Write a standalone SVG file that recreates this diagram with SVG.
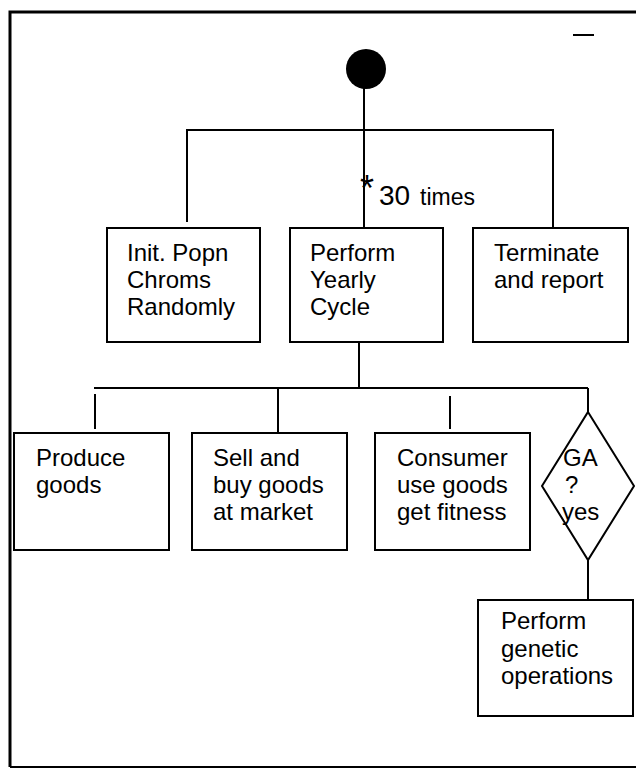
<svg xmlns="http://www.w3.org/2000/svg" width="636" height="771" viewBox="0 0 636 771">
<style>
.box{fill:#fff;stroke:#000;stroke-width:2}
.ln{fill:none;stroke:#000;stroke-width:2}
text{font-family:"Liberation Sans",Arial,sans-serif;font-size:24px;fill:#000}
</style>
<rect width="636" height="771" fill="#fff"/>
<g id="frame">
<path d="M10,767 V12 H636" fill="none" stroke="#000" stroke-width="3"/>
<path d="M10,767 H636" fill="none" stroke="#000" stroke-width="2"/>
<line x1="573" y1="35" x2="594" y2="35" stroke="#000" stroke-width="2"/>
</g>
<g id="connectors" class="ln">
<line x1="364" y1="88" x2="364" y2="228"/>
<polyline points="187,222 187,130 553,130 553,228"/>
<line x1="359" y1="343" x2="359" y2="388"/>
<line x1="94" y1="388" x2="588" y2="388"/>
<line x1="95" y1="394" x2="95" y2="429"/>
<line x1="278" y1="388" x2="278" y2="433"/>
<line x1="450" y1="396" x2="450" y2="429"/>
<line x1="588" y1="388" x2="588" y2="412"/>
<line x1="588" y1="560" x2="588" y2="600"/>
</g>
<g id="start"><ellipse cx="366" cy="69" rx="20" ry="20" fill="#000"/></g>
<g id="label-times">
<text x="360" y="201" style="font-size:36px">*</text>
<text x="379" y="205" style="font-size:28px">30</text>
<text x="420" y="205" style="font-size:23px">times</text>
</g>
<g id="init">
<rect class="box" x="107" y="228" width="153" height="114"/>
<text x="127" y="261">Init. Popn</text>
<text x="127" y="288">Chroms</text>
<text x="127" y="315">Randomly</text>
</g>
<g id="yearly">
<rect class="box" x="290" y="228" width="153" height="114"/>
<text x="310" y="261">Perform</text>
<text x="310" y="288">Yearly</text>
<text x="310" y="315">Cycle</text>
</g>
<g id="terminate">
<rect class="box" x="473" y="228" width="155" height="114"/>
<text x="494" y="261">Terminate</text>
<text x="494" y="288">and report</text>
</g>
<g id="produce">
<rect class="box" x="14" y="433" width="155" height="117"/>
<text x="36" y="466">Produce</text>
<text x="36" y="493">goods</text>
</g>
<g id="sell">
<rect class="box" x="192" y="433" width="155" height="117"/>
<text x="213" y="466">Sell and</text>
<text x="213" y="493">buy goods</text>
<text x="213" y="520">at market</text>
</g>
<g id="consumer">
<rect class="box" x="375" y="433" width="155" height="117"/>
<text x="397" y="466">Consumer</text>
<text x="397" y="493">use goods</text>
<text x="397" y="520">get fitness</text>
</g>
<g id="ga">
<polygon class="box" points="588,412 634,486 588,560 542,486"/>
<text x="563" y="466">GA</text>
<text x="565" y="493">?</text>
<text x="562" y="520">yes</text>
</g>
<g id="genetic">
<rect class="box" x="478" y="600" width="155" height="116"/>
<text x="501" y="629">Perform</text>
<text x="501" y="657">genetic</text>
<text x="501" y="684">operations</text>
</g>
</svg>
